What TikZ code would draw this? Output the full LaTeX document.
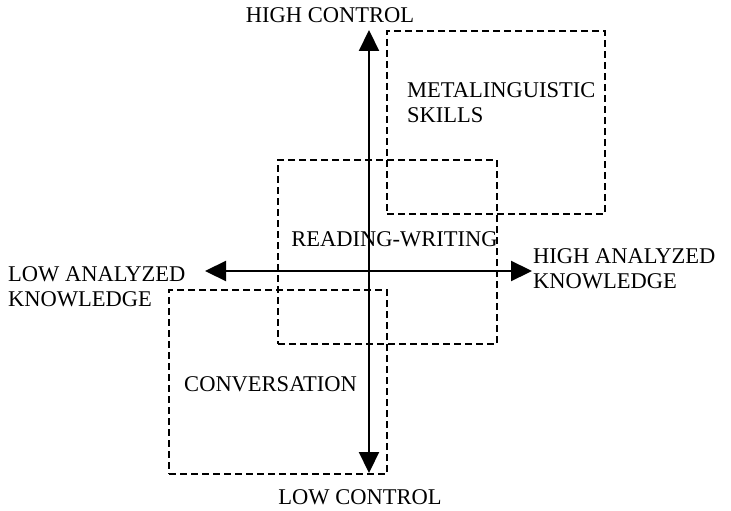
\documentclass[tikz,border=0pt]{standalone}
\usepackage{fontspec}
\setmainfont{Liberation Serif}
\usetikzlibrary{positioning, arrows.meta}

\begin{document}
\begin{tikzpicture}[x=1pt, y=-1pt,
        zone/.style={draw, line width=2.2pt, dash pattern=on 7pt off 4pt, inner sep=0pt},
        axis/.style={line width=2.2pt, {Triangle[length=21pt, width=20pt]}-{Triangle[length=21pt, width=20pt]}},
        lbl/.style={inner sep=0pt, align=left, font=\fontsize{22.5}{25.5}\selectfont}
    ]
      \useasboundingbox (0,0) rectangle (731,511);

      % Zones
      \node[zone, minimum width=218pt, minimum height=183pt] (meta) at (496,122.5) {};
      \node[zone, minimum width=219pt, minimum height=184pt] (readwrite) at (387.5,252) {};
      \node[zone, minimum width=218pt, minimum height=184pt] (conv) at (278,382) {};

      % Axes
      \coordinate (top) at (369,30);
      \coordinate (bottom) at (369,473);
      \coordinate (left) at (205,271);
      \coordinate (right) at (532,271);
      \draw[axis] (top) -- (bottom);
      \draw[axis] (left) -- (right);

      % Axis labels
      \node[lbl] (highctrl) at (330,15.5) {HIGH CONTROL};
      \node[lbl] (lowctrl) at (360,497.5) {LOW CONTROL};
      \node[lbl, anchor=north west] (lowan) at (8,266) {LOW ANALYZED\\KNOWLEDGE};
      \node[lbl, anchor=north west] (highan) at (533,248) {HIGH ANALYZED\\KNOWLEDGE};

      % Zone labels
      \node[lbl, anchor=north west] (metatext) at (407,82) {METALINGUISTIC\\SKILLS};
      \node[lbl] (rwtext) at (394.5,239.5) {READING-WRITING};
      \node[lbl] (convtext) at (270.5,384.5) {CONVERSATION};
    \end{tikzpicture}
\end{document}
